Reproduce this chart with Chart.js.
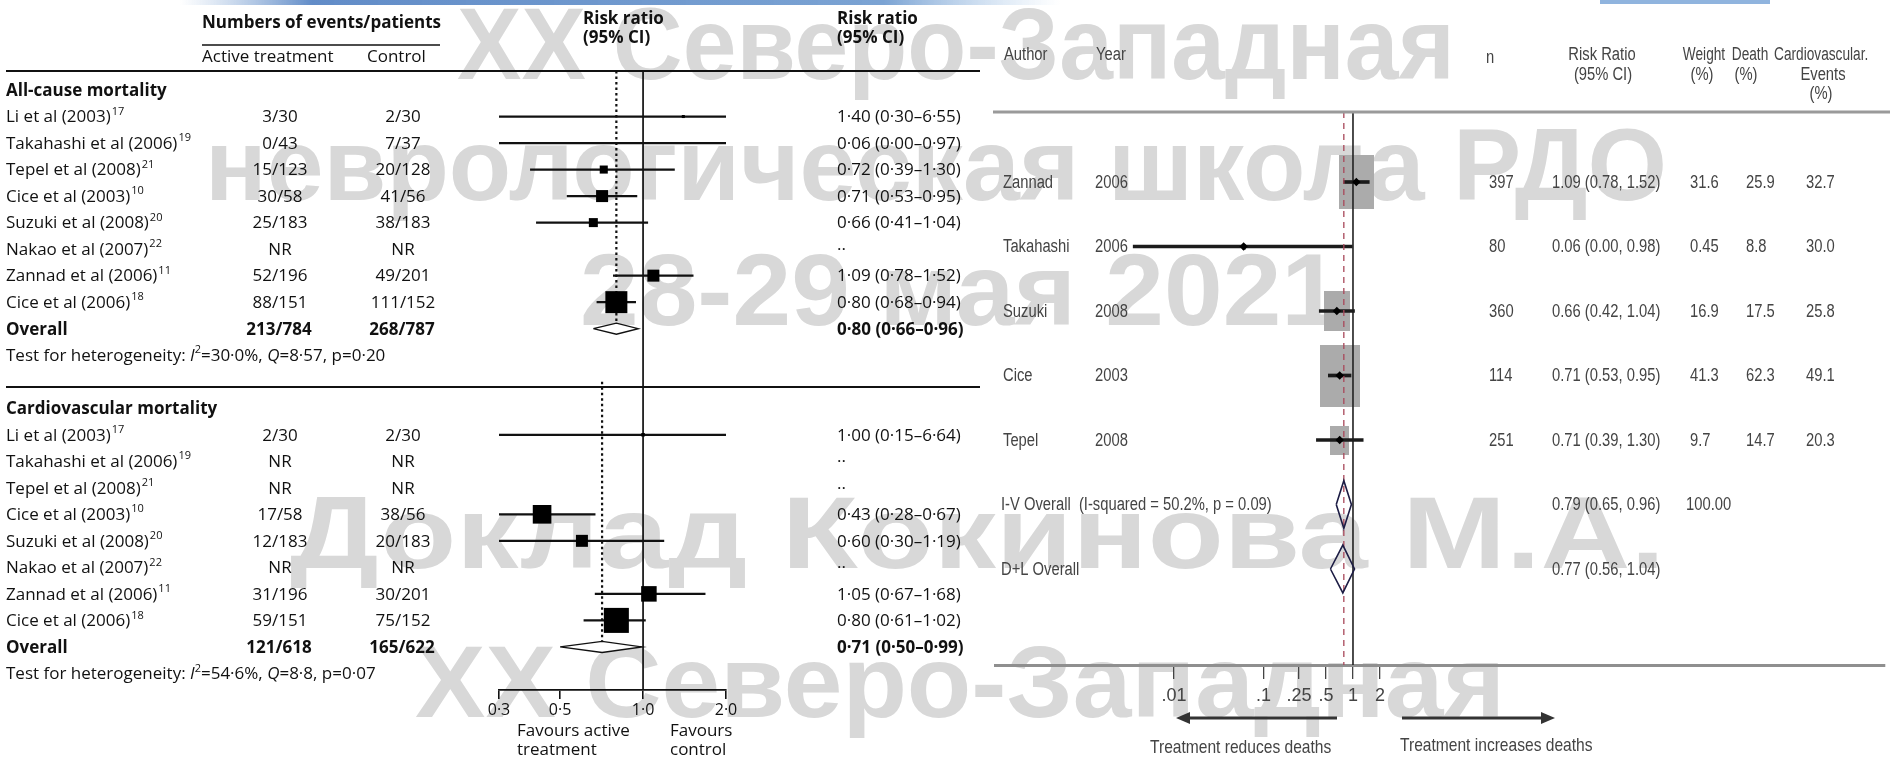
<!DOCTYPE html>
<html><head><meta charset="utf-8">
<script src="https://cdn.jsdelivr.net/npm/chart.js@4.4.0/dist/chart.umd.min.js"></script>
<style>
html,body{margin:0;padding:0;background:#fff;}
#wrap{position:relative;width:1890px;height:757px;overflow:hidden;background:#fff;}
canvas{position:absolute;top:0;}
#bg{left:0;}
#left{left:0;}
#right{left:990px;}
</style></head><body>
<div id="wrap">
<canvas id="bg" width="1890" height="757"></canvas>
<canvas id="left" width="990" height="757"></canvas>
<canvas id="right" width="900" height="757"></canvas>
</div>
<script>
// ================= DATA (left figure) =================
const leftStudies = ["Li et al (2003)","Takahashi et al (2006)","Tepel et al (2008)","Cice et al (2003)","Suzuki et al (2008)","Nakao et al (2007)","Zannad et al (2006)","Cice et al (2006)"];
const leftRefs = ["17","19","21","10","20","22","11","18"];
const leftTicks = [0.3, 0.5, 1, 2];
const leftTickLabels = ["0·3","0·5","1·0","2·0"];

// All-cause mortality
const acActive  = ["3/30","0/43","15/123","30/58","25/183","NR","52/196","88/151"];
const acControl = ["2/30","7/37","20/128","41/56","38/183","NR","49/201","111/152"];
const acRR   = [1.40, 0.06, 0.72, 0.71, 0.66, null, 1.09, 0.80];
const acLow  = [0.30, 0.001, 0.39, 0.53, 0.41, null, 0.78, 0.68];  // as drawn
const acHigh = [6.55, 7.0, 1.30, 0.95, 1.04, null, 1.52, 0.94];    // as drawn
const acWeight = [1.0, 0, 7.0, 15.5, 8.7, null, 15.5, 52.0];        // estimated box weights
const acText = ["1·40 (0·30–6·55)","0·06 (0·00–0·97)","0·72 (0·39–1·30)","0·71 (0·53–0·95)","0·66 (0·41–1·04)","··","1·09 (0·78–1·52)","0·80 (0·68–0·94)"];
const acOverall = [0.80, 0.66, 0.96];
const acOverallCounts = ["213/784","268/787"];
const acOverallText = "0·80 (0·66–0·96)";
const acHet = ["30·0%","8·57","0·20"];

// Cardiovascular mortality
const cvActive  = ["2/30","NR","NR","17/58","12/183","NR","31/196","59/151"];
const cvControl = ["2/30","NR","NR","38/56","20/183","NR","30/201","75/152"];
const cvRR   = [1.00, null, null, 0.43, 0.60, null, 1.05, 0.80];
const cvLow  = [0.15, null, null, 0.28, 0.30, null, 0.67, 0.61];
const cvHigh = [6.64, null, null, 0.67, 1.19, null, 1.68, 1.02];
const cvWeight = [0.9, null, null, 25.3, 10.5, null, 17.6, 45.7];
const cvText = ["1·00 (0·15–6·64)","··","··","0·43 (0·28–0·67)","0·60 (0·30–1·19)","··","1·05 (0·67–1·68)","0·80 (0·61–1·02)"];
const cvOverall = [0.71, 0.50, 0.99];
const cvOverallCounts = ["121/618","165/622"];
const cvOverallText = "0·71 (0·50–0·99)";
const cvHet = ["54·6%","8·8","0·07"];

// ================= DATA (right figure) =================
const rAuthors = ["Zannad","Takahashi","Suzuki","Cice","Tepel"];
const rYears   = ["2006","2006","2008","2003","2008"];
const rN       = [397, 80, 360, 114, 251];
const rRR      = [1.09, 0.06, 0.66, 0.71, 0.71];
const rLow     = [0.78, 0.0035, 0.42, 0.53, 0.39];
const rHigh    = [1.52, 0.98, 1.04, 0.95, 1.30];
const rWeight  = [31.6, 0.45, 16.9, 41.3, 9.7];
const rDeath   = [25.9, 8.8, 17.5, 62.3, 14.7];
const rCV      = [32.7, 30.0, 25.8, 49.1, 20.3];
const rPooledLabels = ["I-V Overall  (I-squared = 50.2%, p = 0.09)","D+L Overall"];
const rPooledRR   = [0.79, 0.77];
const rPooledLow  = [0.65, 0.56];
const rPooledHigh = [0.96, 1.04];
const rPooledWeight = ["100.00",""];
const rTicks = [0.01, 0.1, 0.25, 0.5, 1, 2];
const rTickLabels = [".01",".1",".25",".5","1","2"];

// ================= background: slide decoration + watermark =================
const watermark = [
  ["XX Северо-Западная", 457, 1455, 79],
  ["неврологическая школа РДО", 205, 1667, 200],
  ["28-29 мая 2021", 580, 1340, 325],
  ["Доклад Кокинова М.А.", 290, 1665, 568],
  ["XX Северо-Западная", 415, 1505, 717]
];
(function(){
  const g = document.getElementById('bg').getContext('2d');
  const gr = g.createLinearGradient(180,0,1060,0);
  gr.addColorStop(0,'rgba(120,160,210,0)');
  gr.addColorStop(0.15,'rgba(70,120,190,0.85)');
  gr.addColorStop(0.8,'rgba(90,140,200,0.8)');
  gr.addColorStop(1,'rgba(150,190,230,0)');
  g.fillStyle = gr; g.fillRect(180,0,880,5);
  g.fillStyle = 'rgba(70,130,200,0.6)'; g.fillRect(1600,0,170,4);
  g.fillStyle = '#d8d8d8';
  g.font = "bold 102px 'Liberation Sans', Arial, sans-serif";
  g.textBaseline = 'alphabetic';
  watermark.forEach(([t,l,r,b]) => {
    const w = g.measureText(t).width;
    g.save(); g.translate(l,b); g.scale((r-l)/w,1); g.fillText(t,0,0); g.restore();
  });
})();

// ================= LEFT CHART =================
const LF = "'Open Sans', 'Noto Sans', sans-serif";
const L = {W:990, H:757, top:71, bottom:690, left:499, right:726, row0:90, rowH:26.52};
const yMinL = (L.top - L.row0)/L.rowH, yMaxL = (L.bottom - L.row0)/L.rowH;
const sections = [
  {title:"All-cause mortality", row:0, active:acActive, control:acControl, rr:acRR, low:acLow, high:acHigh, weight:acWeight, text:acText, overall:acOverall, counts:acOverallCounts, otext:acOverallText, het:acHet, k:3.05, dotFrom:yMinL},
  {title:"Cardiovascular mortality", row:12, active:cvActive, control:cvControl, rr:cvRR, low:cvLow, high:cvHigh, weight:cvWeight, text:cvText, overall:cvOverall, counts:cvOverallCounts, otext:cvOverallText, het:cvHet, k:3.7, dotFrom:11.0}
];
const DH = 0.21;
const ciL = [], sqL = [], sqRL = [];
const extraL = [];
sections.forEach(s => {
  leftStudies.forEach((_, i) => {
    const r = s.row + 1 + i;
    if (s.low[i] != null) ciL.push({y:r, x:[s.low[i], s.high[i]]});
    if (s.rr[i] != null && s.weight[i] > 0) { sqL.push({x:s.rr[i], y:r}); sqRL.push(s.k*Math.sqrt(s.weight[i])/Math.SQRT2); }
  });
  const ro = s.row + 9, [e, lo, hi] = s.overall;
  extraL.push({type:'line', data:[{x:lo,y:ro},{x:e,y:ro-DH},{x:hi,y:ro},{x:e,y:ro+DH},{x:lo,y:ro}],
    borderColor:'#111', borderWidth:1.4, backgroundColor:'#fff', fill:'shape', pointRadius:0, tension:0, order:1});
  extraL.push({type:'line', data:[{x:e,y:s.dotFrom},{x:e,y:ro-DH}], borderColor:'#111', borderWidth:2.2, borderDash:[2.5,3], pointRadius:0, order:5});
});

function fillSeg(ctx, segs, x, y){
  segs.forEach(([t,f,dy]) => { ctx.font = f; ctx.fillText(t, x, y + (dy||0)); x += ctx.measureText(t).width; });
}
const leftText = {
  id:'leftText',
  afterDraw(chart){
    const ctx = chart.ctx, ys = chart.scales.y;
    const Y = r => ys.getPixelForValue(r) + 1;
    const N = "17px " + LF, B = "bold 17px " + LF, S = "11px " + LF, I = "italic 17px " + LF;
    ctx.save();
    ctx.fillStyle = '#111'; ctx.strokeStyle = '#111';
    ctx.lineWidth = 2;
    ctx.beginPath(); ctx.moveTo(6,71); ctx.lineTo(980,71); ctx.moveTo(6,387); ctx.lineTo(980,387); ctx.stroke();
    ctx.lineWidth = 1.4; ctx.beginPath(); ctx.moveTo(202,45); ctx.lineTo(440,45); ctx.stroke();
    ctx.textBaseline = 'middle'; ctx.textAlign = 'left';
    ctx.font = B; ctx.fillText("Numbers of events/patients", 202, 23);
    ctx.fillText("Risk ratio", 583, 19); ctx.fillText("(95% CI)", 583, 38);
    ctx.fillText("Risk ratio", 837, 19); ctx.fillText("(95% CI)", 837, 38);
    ctx.font = N; ctx.fillText("Active treatment", 202, 57); ctx.fillText("Control", 367, 57);
    sections.forEach(s => {
      ctx.textAlign = 'left'; ctx.font = B; ctx.fillText(s.title, 6, Y(s.row));
      leftStudies.forEach((nm, i) => {
        const y = Y(s.row + 1 + i);
        ctx.textAlign = 'left'; ctx.font = N; ctx.fillText(nm, 6, y);
        const w = ctx.measureText(nm).width;
        ctx.font = S; ctx.fillText(leftRefs[i], 6 + w + 1, y - 6);
        ctx.font = N; ctx.textAlign = 'center';
        ctx.fillText(s.active[i], 280, y); ctx.fillText(s.control[i], 403, y);
        ctx.textAlign = 'left'; ctx.fillText(s.text[i], 837, y);
      });
      const yo = Y(s.row + 9);
      ctx.font = B; ctx.textAlign = 'left'; ctx.fillText("Overall", 6, yo);
      ctx.textAlign = 'center'; ctx.fillText(s.counts[0], 279, yo); ctx.fillText(s.counts[1], 402, yo);
      ctx.textAlign = 'left'; ctx.fillText(s.otext, 837, yo);
      const yh = Y(s.row + 10);
      fillSeg(ctx, [["Test for heterogeneity: ", N],["I", I],["2", S, -6],["=" + s.het[0] + ", ", N],["Q", I],["=" + s.het[1] + ", p=" + s.het[2], N]], 6, yh);
    });
    ctx.font = N; ctx.textAlign = 'left';
    ctx.fillText("Favours active", 517, 731); ctx.fillText("treatment", 517, 750);
    ctx.fillText("Favours", 670, 731); ctx.fillText("control", 670, 750);
    ctx.restore();
  }
};

new Chart(document.getElementById('left'), {
  type:'scatter',
  data:{datasets:[
    {type:'scatter', data:sqL, pointStyle:'rect', pointRadius:sqRL, backgroundColor:'#000', borderWidth:0, order:0},
    {type:'bar', indexAxis:'y', grouped:false, data:ciL, barThickness:1.6, backgroundColor:'#111', borderWidth:0, order:3},
    {type:'line', data:[{x:1,y:yMinL},{x:1,y:yMaxL}], borderColor:'#111', borderWidth:1.7, pointRadius:0, order:4},
    ...extraL
  ]},
  options:{
    responsive:false, animation:false, events:[],
    layout:{padding:{left:L.left, right:L.W - L.right, top:L.top, bottom:0}},
    plugins:{legend:{display:false}, tooltip:{enabled:false}},
    scales:{
      x:{type:'logarithmic', min:0.3, max:2, beginAtZero:false, offset:false,
        afterBuildTicks:s => { s.ticks = leftTicks.map(v => ({value:v})); },
        afterFit:s => { s.height = L.H - L.bottom; },
        ticks:{callback:(v,i) => leftTickLabels[i], autoSkip:false, maxRotation:0, font:{family:LF, size:16}, color:'#111', padding:2},
        grid:{drawOnChartArea:false, drawTicks:true, tickLength:9, color:'#111', lineWidth:1.6},
        border:{display:true, color:'#111', width:1.8}},
      y:{type:'linear', display:false, reverse:true, min:yMinL, max:yMaxL, offset:false}
    }
  },
  plugins:[leftText]
});

// ================= RIGHT CHART =================
const RF = "'Liberation Sans', Arial, sans-serif";
const SX = 0.82;
const R = {W:900, H:757, top:112, bottom:665, left:5, row0:182, rowH:64.5, off:990};
const yMinR = (R.top - R.row0)/R.rowH, yMaxR = (R.bottom - R.row0)/R.rowH;
function boxImg(w){
  const c = document.createElement('canvas');
  const bw = Math.max(2, Math.round(6.25*Math.sqrt(w)));
  c.width = bw; c.height = Math.round(bw*1.55);
  const g = c.getContext('2d'); g.fillStyle = '#ababab'; g.fillRect(0,0,c.width,c.height);
  return c;
}
const rBoxes = rRR.map((v,i) => ({x:v, y:i}));
const rBoxStyles = rWeight.map(boxImg);
const rCI = rRR.map((v,i) => ({y:i, x:[rLow[i], rHigh[i]]}));
const rDiamonds = rPooledRR.map((e,j) => {
  const r = rAuthors.length + j, h = 0.37;
  return {type:'line', data:[{x:rPooledLow[j],y:r},{x:e,y:r-h},{x:rPooledHigh[j],y:r},{x:e,y:r+h},{x:rPooledLow[j],y:r}],
    borderColor:'#1c1c44', borderWidth:1.6, pointRadius:0, tension:0, fill:false, order:0};
});
function nt(ctx, t, x, y, align, sx){
  ctx.save(); ctx.translate(x, y); ctx.scale(sx || SX, 1); ctx.textAlign = align || 'left'; ctx.fillText(t, 0, 0); ctx.restore();
}
const rightText = {
  id:'rightText',
  afterDraw(chart){
    const ctx = chart.ctx, ys = chart.scales.y, o = R.off;
    const Y = r => ys.getPixelForValue(r) + 1;
    ctx.save();
    ctx.strokeStyle = '#9a9a9a'; ctx.lineWidth = 3;
    ctx.beginPath(); ctx.moveTo(3, 112); ctx.lineTo(900, 112); ctx.stroke();
    ctx.fillStyle = '#444'; ctx.textBaseline = 'middle';
    ctx.font = "18px " + RF;
    const hs = 0.76;
    nt(ctx, "Author", 1004-o, 55); nt(ctx, "Year", 1096-o, 55); nt(ctx, "n", 1486-o, 58);
    nt(ctx, "Risk Ratio", 1602-o, 55, 'center'); nt(ctx, "(95% CI)", 1603-o, 75, 'center');
    nt(ctx, "Weight", 1704-o, 55, 'center', hs); nt(ctx, "(%)", 1702-o, 75, 'center');
    nt(ctx, "Death", 1750-o, 55, 'center', hs); nt(ctx, "(%)", 1746-o, 75, 'center');
    nt(ctx, "Cardiovascular.", 1774-o, 55, 'left', hs); nt(ctx, "Events", 1823-o, 75, 'center'); nt(ctx, "(%)", 1821-o, 94, 'center');
    rAuthors.forEach((a,i) => {
      const y = Y(i);
      nt(ctx, a, 1003-o, y); nt(ctx, rYears[i], 1095-o, y); nt(ctx, String(rN[i]), 1489-o, y);
      nt(ctx, rRR[i].toFixed(2) + " (" + rLow[i].toFixed(2) + ", " + rHigh[i].toFixed(2) + ")", 1552-o, y);
      nt(ctx, String(rWeight[i]), 1690-o, y); nt(ctx, rDeath[i].toFixed(1), 1746-o, y); nt(ctx, rCV[i].toFixed(1), 1806-o, y);
    });
    rPooledLabels.forEach((lab,j) => {
      const y = Y(rAuthors.length + j);
      nt(ctx, lab, 1001-o, y);
      nt(ctx, rPooledRR[j].toFixed(2) + " (" + rPooledLow[j].toFixed(2) + ", " + rPooledHigh[j].toFixed(2) + ")", 1552-o, y);
      if (rPooledWeight[j]) nt(ctx, rPooledWeight[j], 1686-o, y);
    });
    // direction arrows
    ctx.strokeStyle = '#333'; ctx.fillStyle = '#333'; ctx.lineWidth = 3;
    const ay = 718;
    ctx.beginPath(); ctx.moveTo(1337-o, ay); ctx.lineTo(1188-o, ay); ctx.moveTo(1402-o, ay); ctx.lineTo(1543-o, ay); ctx.stroke();
    ctx.beginPath(); ctx.moveTo(1176-o, ay); ctx.lineTo(1190-o, ay-6); ctx.lineTo(1190-o, ay+6); ctx.closePath(); ctx.fill();
    ctx.beginPath(); ctx.moveTo(1555-o, ay); ctx.lineTo(1541-o, ay-6); ctx.lineTo(1541-o, ay+6); ctx.closePath(); ctx.fill();
    ctx.fillStyle = '#444'; ctx.font = "19px " + RF;
    nt(ctx, "Treatment reduces deaths", 1150-o, 748);
    nt(ctx, "Treatment increases deaths", 1400-o, 746);
    ctx.restore();
  }
};

new Chart(document.getElementById('right'), {
  type:'scatter',
  data:{datasets:[
    {type:'scatter', data:rAuthors.map((_,i)=>({x:rRR[i], y:i})), pointStyle:'rectRot', pointRadius:4.2, backgroundColor:'#000', borderWidth:0, order:0},
    ...rDiamonds,
    {type:'line', data:[{x:rPooledRR[0],y:yMinR},{x:rPooledRR[0],y:yMaxR}], borderColor:'#a8475a', borderWidth:1.3, borderDash:[6,5], pointRadius:0, order:1},
    {type:'bar', indexAxis:'y', grouped:false, data:rCI, barThickness:3, backgroundColor:'#1b1b1b', borderWidth:0, order:2},
    {type:'line', data:[{x:1,y:yMinR},{x:1,y:yMaxR}], borderColor:'#222', borderWidth:1.6, pointRadius:0, order:3},
    {type:'scatter', data:rBoxes, pointStyle:rBoxStyles, pointRadius:5, backgroundColor:'#ababab', borderWidth:0, order:6}
  ]},
  options:{
    responsive:false, animation:false, events:[],
    layout:{padding:{left:R.left, right:0, top:R.top, bottom:0}},
    plugins:{legend:{display:false}, tooltip:{enabled:false}},
    scales:{
      x:{type:'logarithmic', min:1e-4, max:8.8e5, beginAtZero:false, offset:false,
        afterBuildTicks:s => { s.ticks = rTicks.map(v => ({value:v})); },
        afterFit:s => { s.height = R.H - R.bottom; },
        ticks:{callback:(v,i) => rTickLabels[i], autoSkip:false, maxRotation:0, font:{family:"'Liberation Sans Narrow', 'Liberation Sans', Arial, sans-serif", size:18}, color:'#444', padding:6},
        grid:{drawOnChartArea:false, drawTicks:true, tickLength:14, color:'#444', lineWidth:1.3},
        border:{display:true, color:'#8f8f8f', width:3}},
      y:{type:'linear', display:false, reverse:true, min:yMinR, max:yMaxR, offset:false}
    }
  },
  plugins:[rightText]
});
</script>
</body></html>
